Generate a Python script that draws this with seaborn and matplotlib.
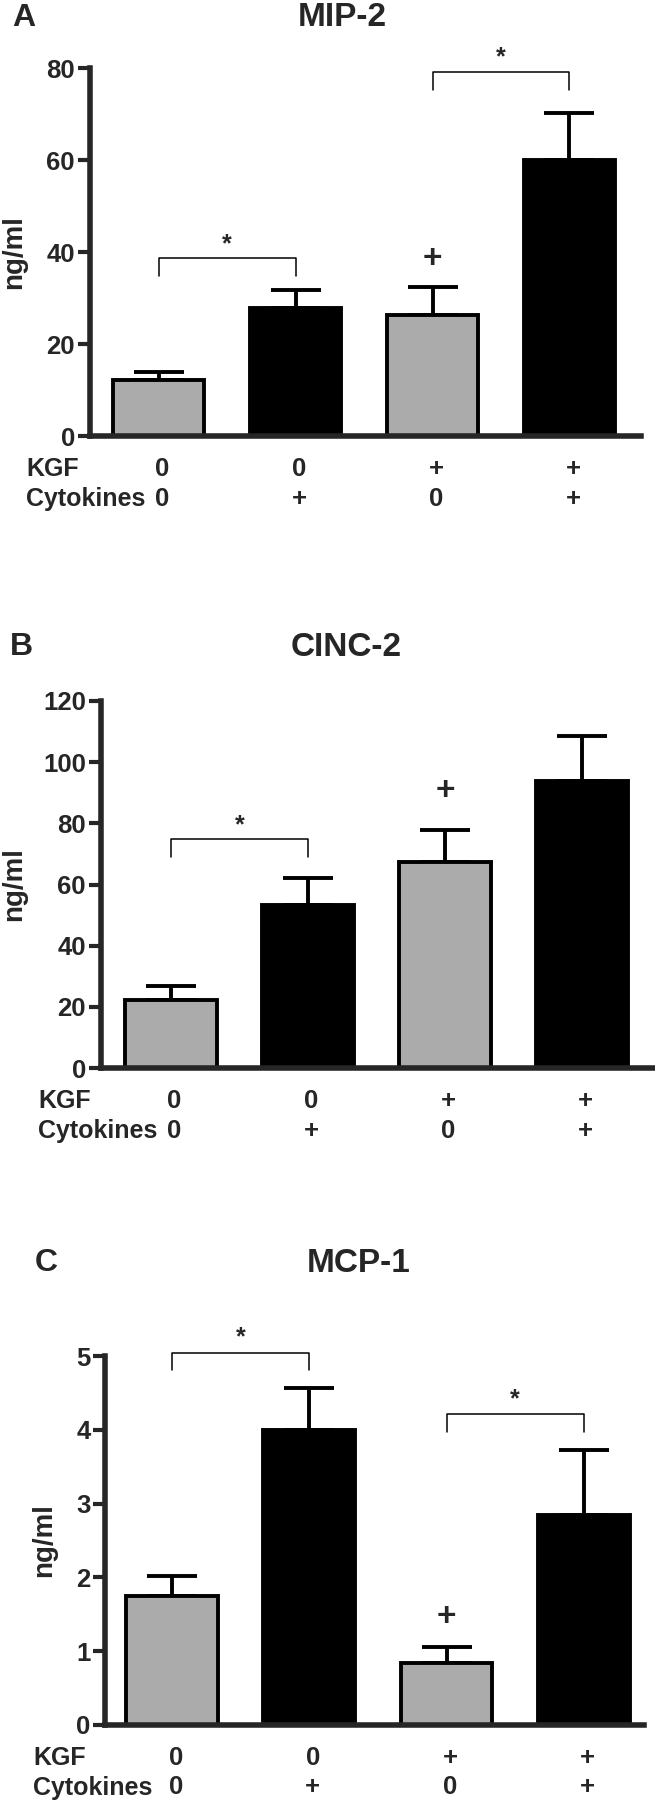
import matplotlib
matplotlib.use("Agg")
import matplotlib.pyplot as plt
import pandas as pd
import seaborn as sns

# % Data
groups = ["g1", "g2", "g3", "g4"]
kgf_row = ["0", "0", "+", "+"]
cytokine_row = ["0", "+", "0", "+"]
bar_colors = ["#ababab", "#000000", "#ababab", "#000000"]

mip2_mean = [12.1, 27.8, 26.3, 59.9]
mip2_sem = [1.9, 4.0, 6.2, 10.3]
cinc2_mean = [22.1, 53.2, 67.5, 94.0]
cinc2_sem = [4.7, 9.0, 10.4, 14.4]
mcp1_mean = [1.75, 4.0, 0.84, 2.84]
mcp1_sem = [0.27, 0.57, 0.22, 0.88]

# brackets: (bar from, bar to, top, leg end, star y)
mip2_brackets = [(0, 1, 38.7, 34.8, 41.7), (2, 3, 79.2, 75.2, 82.3)]
cinc2_brackets = [(0, 1, 74.8, 68.9, 79.3)]
mcp1_brackets = [(0, 1, 5.04, 4.81, 5.25), (2, 3, 4.21, 3.97, 4.41)]
mip2_plus = (2, 38.3)
cinc2_plus = (2, 90.4)
mcp1_plus = (2, 1.45)

# % Style
sns.set_style("ticks")
plt.rcParams["font.family"] = ["Liberation Sans", "DejaVu Sans"]
plt.rcParams["font.weight"] = "bold"

W, H = 655, 1800
fig = plt.figure(figsize=(W / 100, H / 100), dpi=100)


def panel(box, mean, sem, ymax, yticks, title, letter, title_x, title_y,
          letter_x, row_x, brackets, plus, xlim, ylab_x):
    left, right, top, bottom = box
    ax = fig.add_axes([left / W, 1 - bottom / H, (right - left) / W, (bottom - top) / H])
    df = pd.DataFrame({"group": groups, "value": mean})
    sns.barplot(data=df, x="group", y="value", hue="group", palette=bar_colors,
                legend=False, width=0.67, edgecolor="black", linewidth=2.8,
                errorbar=None, saturation=1, ax=ax)
    ax.errorbar(range(len(groups)), mean, yerr=[[0] * len(groups), sem], fmt="none",
                ecolor="black", elinewidth=2.8, capsize=18, capthick=2.8, zorder=0.5)
    ax.set_xlim(*xlim)
    ax.set_ylim(0, ymax)
    ax.set_yticks(yticks)
    ax.set_yticklabels([str(t) for t in yticks], fontsize=18.5, fontweight="bold")
    ax.set_xticks([])
    ax.set_xlabel("")
    ax.set_ylabel("ng/ml", fontsize=20, fontweight="bold")
    ax.yaxis.set_label_coords(ylab_x, 0.5)
    sns.despine(ax=ax)
    for s in ["left", "bottom"]:
        ax.spines[s].set_linewidth(4)
    ax.tick_params(axis="y", length=9, width=3, pad=1.5)

    for i, j, y_top, y_leg, y_star in brackets:
        ax.plot([i, i, j, j], [y_leg, y_top, y_top, y_leg], color="black",
                lw=1.1, clip_on=False)
        ax.text((i + j) / 2, y_star, "*", ha="center", va="center", fontsize=18,
                fontweight="bold", clip_on=False)
    ax.text(plus[0], plus[1], "+", ha="center", va="center", fontsize=24,
            fontweight="bold")

    for i in range(len(groups)):
        ax.annotate(kgf_row[i], xy=(i, 0), xycoords=("data", "axes fraction"),
                    xytext=(2.5, -23.5), textcoords="offset points", ha="center",
                    va="center", fontsize=18.5, fontweight="bold")
        ax.annotate(cytokine_row[i], xy=(i, 0), xycoords=("data", "axes fraction"),
                    xytext=(2.5, -45), textcoords="offset points", ha="center",
                    va="center", fontsize=18.5, fontweight="bold")
    fig.text(row_x / W, 1 - (bottom + 33) / H, "KGF", ha="left", va="center",
             fontsize=18, fontweight="bold")
    fig.text(row_x / W, 1 - (bottom + 63) / H, "Cytokines", ha="left", va="center",
             fontsize=18, fontweight="bold")
    fig.text(title_x / W, 1 - title_y / H, title, ha="center", va="center",
             fontsize=24, fontweight="bold")
    fig.text(letter_x / W, 1 - title_y / H, letter, ha="left", va="center",
             fontsize=23, fontweight="bold")
    return ax


panel((89.5, 641, 68, 436), mip2_mean, mip2_sem, 80, [0, 20, 40, 60, 80],
      "MIP-2", "A", 342, 18, 12, 26, mip2_brackets, mip2_plus, (-0.504, 3.522), -0.113)
panel((100.5, 653, 701, 1068), cinc2_mean, cinc2_sem, 120, [0, 20, 40, 60, 80, 100, 120],
      "CINC-2", "B", 346, 647, 10, 38, cinc2_brackets, cinc2_plus, (-0.515, 3.518), -0.133)
panel((105, 644, 1356, 1725), mcp1_mean, mcp1_sem, 5, [0, 1, 2, 3, 4, 5],
      "MCP-1", "C", 359, 1263, 35, 33, mcp1_brackets, mcp1_plus, (-0.49, 3.44), -0.089)

fig.savefig("out.png", dpi=100)
